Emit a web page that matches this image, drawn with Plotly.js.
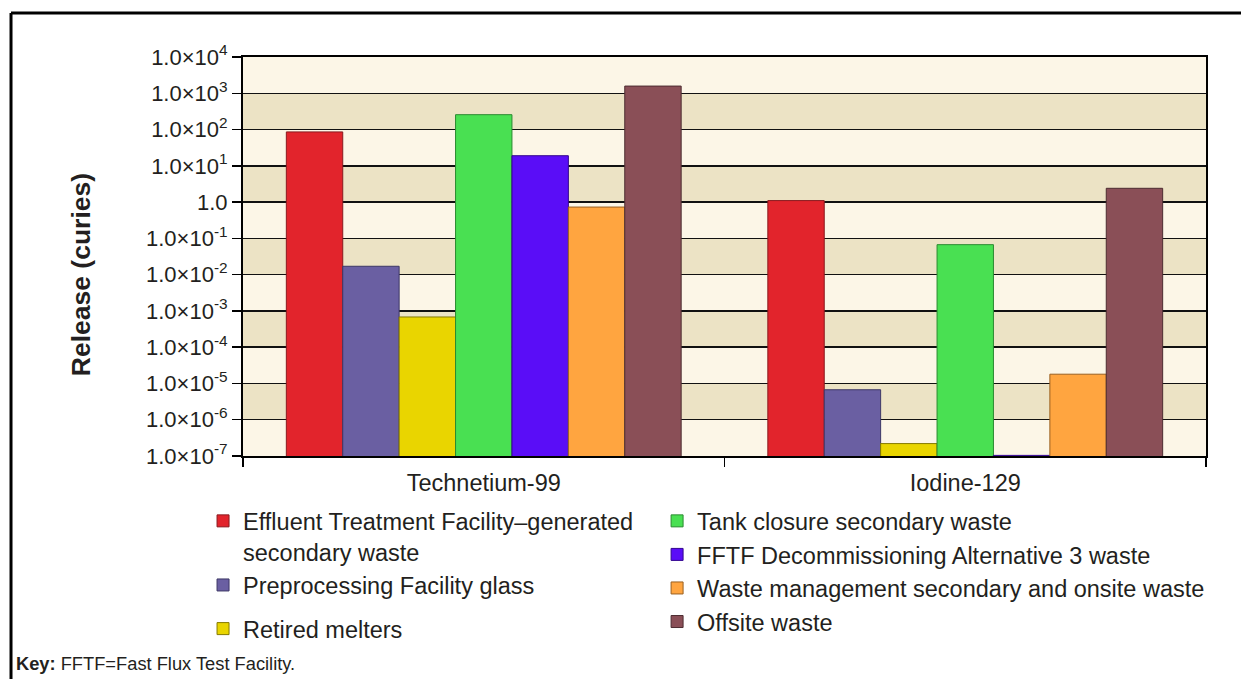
<!DOCTYPE html>
<html>
<head>
<meta charset="utf-8">
<script src="https://cdn.plot.ly/plotly-3.0.1.min.js"></script>
<style>
  html, body { margin: 0; padding: 0; background: #ffffff; }
  #chart { width: 1241px; height: 679px; }
</style>
</head>
<body>
<div id="chart"></div>
<script>
// ---- Data ----
const categories = ["Technetium-99", "Iodine-129"];

const seriesNames = [
  "Effluent Treatment Facility–generated<br>secondary waste",
  "Preprocessing Facility glass",
  "Retired melters",
  "Tank closure secondary waste",
  "FFTF Decommissioning Alternative 3 waste",
  "Waste management secondary and onsite waste",
  "Offsite waste"
];

const effluentETF        = [86, 1.1];
const preprocessingGlass = [0.017, 6.7e-6];
const retiredMelters     = [6.8e-4, 2.2e-7];
const tankClosure        = [257, 0.067];
const fftfDecom          = [19, 1.04e-7];
const wasteMgmt          = [0.73, 1.8e-5];
const offsiteWaste       = [1580, 2.4];

const seriesValues = [effluentETF, preprocessingGlass, retiredMelters, tankClosure, fftfDecom, wasteMgmt, offsiteWaste];

const tickValues = [1e-7, 1e-6, 1e-5, 1e-4, 1e-3, 1e-2, 1e-1, 1, 10, 100, 1000, 10000];
const tickLabels = [
  "1.0×10<sup>-7</sup>", "1.0×10<sup>-6</sup>", "1.0×10<sup>-5</sup>", "1.0×10<sup>-4</sup>",
  "1.0×10<sup>-3</sup>", "1.0×10<sup>-2</sup>", "1.0×10<sup>-1</sup>", "1.0",
  "1.0×10<sup>1</sup>", "1.0×10<sup>2</sup>", "1.0×10<sup>3</sup>", "1.0×10<sup>4</sup>"
];

// ---- Styles ----
const colors = ["#E2242C", "#6A5FA2", "#E9D500", "#49E052", "#5A0DF7", "#FFA540", "#8A4F57"];
const lineColors = ["#8a1a1f", "#3d3766", "#857a00", "#2a8a30", "#33068f", "#9a6020", "#4d2c31"];
const legendOf = ["legend", "legend", "legend3", "legend2", "legend2", "legend2", "legend2"];
const FONT = "Liberation Sans, Arial, Helvetica, sans-serif";
const TXT = "#231F20";

const traces = seriesNames.map((name, i) => ({
  type: "bar",
  name: name,
  x: categories,
  y: seriesValues[i],
  legend: legendOf[i],
  marker: { color: colors[i], line: { color: lineColors[i], width: 1 } },
  hovertemplate: "%{x}<br>%{y:.2e}<extra></extra>"
}));

// alternating background bands (decades)
const bandDecades = [[100, 1000], [1, 10], [0.01, 0.1], [1e-4, 1e-3], [1e-6, 1e-5]];
const shapes = bandDecades.map(b => ({
  type: "rect", xref: "paper", yref: "y", x0: 0, x1: 1, y0: b[0], y1: b[1],
  fillcolor: "#ECE3C5", line: { width: 0 }, layer: "below"
}));
// outer frame (top and left edges)
shapes.push({ type: "line", xref: "paper", yref: "paper", x0: -0.2409, x1: 1.04, y0: 1.1103, y1: 1.1103, line: { color: "#000", width: 3 } });
shapes.push({ type: "line", xref: "paper", yref: "paper", x0: -0.2409, x1: -0.2409, y0: 1.1103, y1: -0.6, line: { color: "#000", width: 3 } });

const legendBase = {
  xanchor: "left", yanchor: "top", orientation: "v", bgcolor: "rgba(0,0,0,0)",
  font: { family: FONT, size: 23.5, color: TXT }, itemwidth: 30, traceorder: "normal"
};

const layout = {
  width: 1241, height: 679,
  margin: { l: 243, r: 35, t: 57, b: 223 },
  paper_bgcolor: "#ffffff",
  plot_bgcolor: "#FCF6E7",
  barmode: "group",
  bargap: 0.18,
  bargroupgap: 0,
  font: { family: FONT, color: TXT, size: 22 },
  xaxis: {
    type: "category",
    showline: true, linecolor: "#000", linewidth: 2, mirror: true,
    ticks: "outside", tickson: "boundaries", ticklen: 9, tickcolor: "#000", tickwidth: 1.5,
    ticklabelstandoff: 5,
    showgrid: false,
    tickfont: { family: FONT, size: 23.5, color: TXT }
  },
  yaxis: {
    type: "log", range: [-7, 4],
    tickvals: tickValues, ticktext: tickLabels,
    showline: true, linecolor: "#000", linewidth: 2, mirror: true,
    ticks: "outside", ticklen: 9, tickcolor: "#000", tickwidth: 1.5,
    showgrid: true, gridcolor: "#111", gridwidth: 1.4,
    zeroline: false,
    tickfont: { family: FONT, size: 22, color: TXT }
  },
  showlegend: true,
  legend:  Object.assign({}, legendBase, { x: -0.0415, y: -0.108, valign: "top" }),
  legend2: Object.assign({}, legendBase, { x: 0.43, y: -0.108, valign: "middle" }),
  legend3: Object.assign({}, legendBase, { x: -0.0415, y: -0.378, valign: "middle" }),
  shapes: shapes,
  annotations: [
    {
      text: "<b>Release (curies)</b>", textangle: -90,
      xref: "paper", yref: "paper", x: -0.168, y: 0.4536,
      xanchor: "center", yanchor: "middle", showarrow: false,
      font: { family: FONT, size: 26.5, color: TXT }
    },
    {
      text: "<b>Key:</b> FFTF=Fast Flux Test Facility.",
      xref: "paper", yref: "paper", x: -0.2378, y: -0.519,
      xanchor: "left", yanchor: "middle", showarrow: false,
      font: { family: FONT, size: 18.3, color: TXT }
    }
  ]
};

Plotly.newPlot("chart", traces, layout, { displayModeBar: false, staticPlot: true });
</script>
</body>
</html>
